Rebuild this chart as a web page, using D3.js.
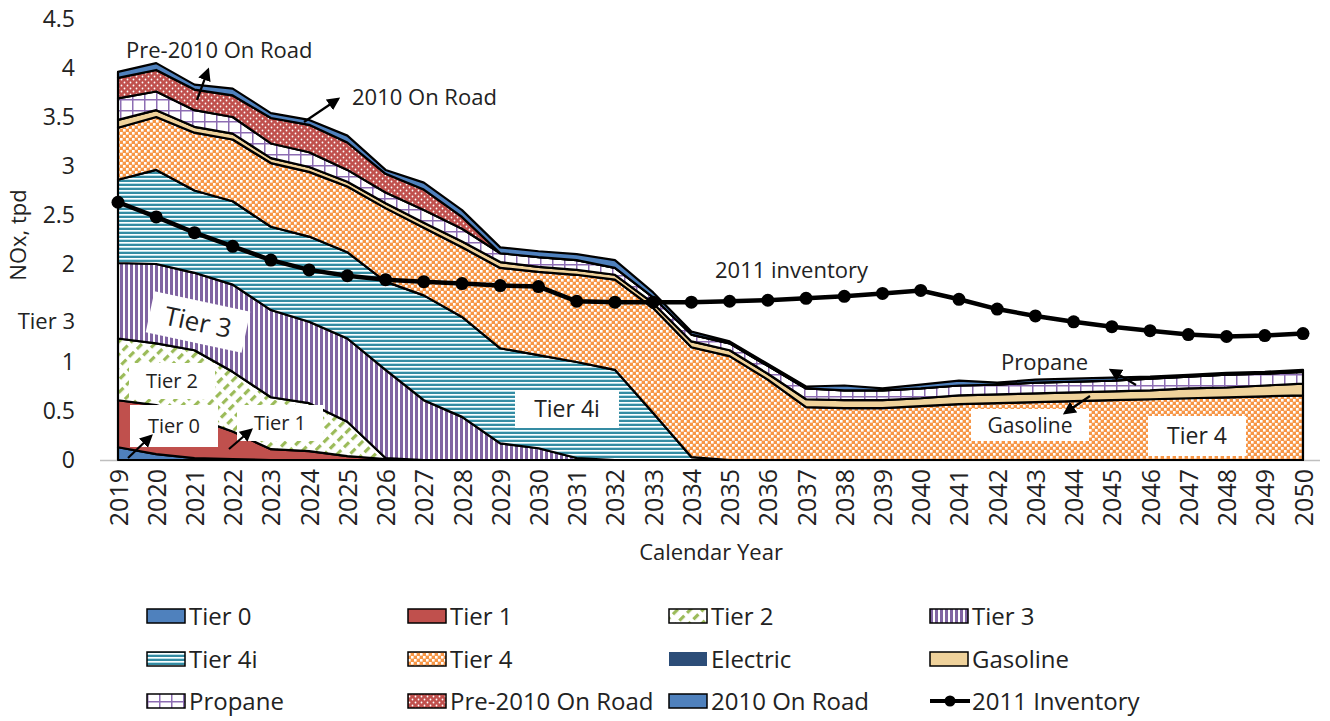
<!DOCTYPE html>
<meta charset="utf-8">
<style>
  body { margin: 0; background: #fff; }
  text { font-family: "Open Sans", sans-serif; fill: #222; }
</style>
<body>
<svg id="chart" width="1330" height="721"></svg>
<script src="https://cdn.jsdelivr.net/npm/d3@7"></script>
<script>
  // ---- data (NOx, tpd) ----
  var years = ["2019","2020","2021","2022","2023","2024","2025","2026","2027","2028","2029","2030","2031","2032","2033","2034",
               "2035","2036","2037","2038","2039","2040","2041","2042","2043","2044","2045","2046","2047","2048","2049","2050"];
  var tier0    = [0.13,0.06,0.02,0.01,0,0,0,0,0,0,0,0,0,0,0,0,0,0,0,0,0,0,0,0,0,0,0,0,0,0,0,0];
  var tier1    = [0.48,0.50,0.41,0.28,0.11,0.09,0.04,0.01,0,0,0,0,0,0,0,0,0,0,0,0,0,0,0,0,0,0,0,0,0,0,0,0];
  var tier2    = [0.63,0.63,0.69,0.61,0.53,0.49,0.35,0.01,0,0,0,0,0,0,0,0,0,0,0,0,0,0,0,0,0,0,0,0,0,0,0,0];
  var tier3    = [0.77,0.81,0.79,0.89,0.89,0.83,0.85,0.90,0.61,0.44,0.17,0.12,0.02,0,0,0,0,0,0,0,0,0,0,0,0,0,0,0,0,0,0,0];
  var tier4i   = [0.85,0.96,0.84,0.85,0.85,0.87,0.88,0.90,1.07,1.02,0.97,0.95,0.98,0.92,0.48,0.03,0,0,0,0,0,0,0,0,0,0,0,0,0,0,0,0];
  var tier4    = [0.53,0.54,0.59,0.63,0.65,0.66,0.67,0.75,0.69,0.71,0.82,0.85,0.89,0.92,1.07,1.12,1.06,0.82,0.54,0.53,0.53,0.55,0.57,0.58,0.59,0.60,0.61,0.62,0.63,0.64,0.65,0.66];
  var electric = [0,0,0,0,0,0,0,0,0,0,0,0,0,0,0,0,0,0,0,0,0,0,0,0,0,0,0,0,0,0,0,0];
  var gasoline = [0.08,0.07,0.06,0.06,0.05,0.05,0.05,0.05,0.05,0.06,0.06,0.05,0.05,0.05,0.05,0.06,0.06,0.06,0.08,0.08,0.08,0.08,0.09,0.09,0.09,0.09,0.09,0.09,0.10,0.10,0.11,0.12];
  var propane  = [0.22,0.19,0.17,0.17,0.15,0.15,0.12,0.11,0.13,0.13,0.09,0.10,0.10,0.07,0.06,0.07,0.07,0.08,0.11,0.10,0.10,0.10,0.10,0.10,0.11,0.11,0.11,0.12,0.12,0.13,0.12,0.12];
  var pre2010  = [0.21,0.22,0.21,0.22,0.26,0.28,0.28,0.19,0.21,0.12,0,0,0,0,0,0,0,0,0,0,0,0,0,0,0,0,0,0,0,0,0,0];
  var road2010 = [0.06,0.07,0.05,0.07,0.05,0.05,0.07,0.04,0.07,0.07,0.06,0.06,0.06,0.08,0.05,0.03,0.02,0.02,0.02,0.05,0.02,0.04,0.05,0.02,0.03,0.03,0.03,0.02,0.02,0.02,0.02,0.02];
  var inventory2011 = [2.63,2.48,2.32,2.18,2.04,1.94,1.88,1.84,1.82,1.80,1.78,1.77,1.62,1.61,1.61,1.61,
                       1.62,1.63,1.65,1.67,1.70,1.73,1.64,1.54,1.47,1.41,1.36,1.32,1.28,1.26,1.27,1.29];
  var yTicks = [0,0.5,1,1.5,2,2.5,3,3.5,4,4.5];

  var series = [
    {key: "Tier 0", values: tier0, fill: "#4f81bd", stroke: true},
    {key: "Tier 1", values: tier1, fill: "#c0504d", stroke: true},
    {key: "Tier 2", values: tier2, fill: "url(#pTier2)", stroke: true},
    {key: "Tier 3", values: tier3, fill: "url(#pTier3)", stroke: true},
    {key: "Tier 4i", values: tier4i, fill: "url(#pTier4i)", stroke: true},
    {key: "Tier 4", values: tier4, fill: "url(#pTier4)", stroke: true},
    {key: "Electric", values: electric, fill: "#2c4d78", stroke: false},
    {key: "Gasoline", values: gasoline, fill: "#efd29b", stroke: true},
    {key: "Propane", values: propane, fill: "url(#pPropane)", stroke: true},
    {key: "Pre-2010 On Road", values: pre2010, fill: "url(#pPre2010)", stroke: true},
    {key: "2010 On Road", values: road2010, fill: "#4f81bd", stroke: true}
  ];

  var svg = d3.select("#chart");
  var defs = svg.append("defs");

  function pattern(id, w, h, transform) {
    var p = defs.append("pattern").attr("id", id)
      .attr("patternUnits", "userSpaceOnUse").attr("width", w).attr("height", h);
    if (transform) p.attr("patternTransform", transform);
    return p;
  }
  var p2 = pattern("pTier2", 9, 11, "rotate(45)");
  p2.append("rect").attr("width", 9).attr("height", 11).attr("fill", "#fff");
  p2.append("rect").attr("width", 3.2).attr("height", 7).attr("fill", "#9bbb59");

  var p3 = pattern("pTier3", 5, 5);
  p3.append("rect").attr("width", 5).attr("height", 5).attr("fill", "#fff");
  p3.append("rect").attr("width", 3).attr("height", 5).attr("fill", "#8064a2");

  var p4i = pattern("pTier4i", 4, 4);
  p4i.append("rect").attr("width", 4).attr("height", 4).attr("fill", "#fff");
  p4i.append("rect").attr("width", 4).attr("height", 2).attr("fill", "#358ca3");
  p4i.append("rect").attr("y", 3).attr("width", 4).attr("height", 1).attr("fill", "#b9dfe8");

  var p4 = pattern("pTier4", 6, 6);
  p4.append("rect").attr("width", 6).attr("height", 6).attr("fill", "#f79646");
  p4.append("rect").attr("width", 2.6).attr("height", 2.6).attr("fill", "#fff");
  p4.append("rect").attr("x", 3).attr("y", 3).attr("width", 2.6).attr("height", 2.6).attr("fill", "#fff");

  var pp = pattern("pPropane", 12, 11);
  pp.append("rect").attr("width", 12).attr("height", 11).attr("fill", "#fff");
  pp.append("path").attr("d", "M0.75,0V11M0,0.75H12").attr("stroke", "#8d6db3").attr("stroke-width", 1.5);

  var pr = pattern("pPre2010", 6, 6);
  pr.append("rect").attr("width", 6).attr("height", 6).attr("fill", "#c0504d");
  pr.append("circle").attr("cx", 1.5).attr("cy", 1.5).attr("r", 0.9).attr("fill", "#fff");
  pr.append("circle").attr("cx", 4.5).attr("cy", 4.5).attr("r", 0.9).attr("fill", "#fff");

  defs.append("marker").attr("id", "arrow").attr("viewBox", "0 0 10 10")
    .attr("refX", 8).attr("refY", 5).attr("markerWidth", 13).attr("markerHeight", 13)
    .attr("markerUnits", "userSpaceOnUse").attr("orient", "auto")
    .append("path").attr("d", "M0,0L10,5L0,10z").attr("fill", "#000");

  // ---- scales ----
  var x = d3.scalePoint().domain(years).range([118, 1303]);
  var y = d3.scaleLinear().domain([0, 4.5]).range([460, 19]);

  var rows = years.map(function (yr, i) {
    var r = {year: yr};
    series.forEach(function (s) { r[s.key] = s.values[i]; });
    return r;
  });
  var stacked = d3.stack().keys(series.map(function (s) { return s.key; }))(rows);

  var area = d3.area()
    .x(function (d) { return x(d.data.year); })
    .y0(function (d) { return y(d[0]); })
    .y1(function (d) { return y(d[1]); });

  // axis base line
  svg.append("line").attr("x1", 100).attr("x2", 1320).attr("y1", 460.5).attr("y2", 460.5)
    .attr("stroke", "#bfbfbf").attr("stroke-width", 1.5);

  svg.append("g").selectAll("path").data(stacked).enter().append("path")
    .attr("d", area)
    .attr("fill", function (d, i) { return series[i].fill; })
    .attr("stroke", function (d, i) { return series[i].stroke ? "#000" : "none"; })
    .attr("stroke-width", 2.2)
    .attr("stroke-linejoin", "round");

  // 2011 inventory line
  var line = d3.line()
    .x(function (d, i) { return x(years[i]); })
    .y(function (d) { return y(d); });
  svg.append("path").datum(inventory2011).attr("d", line)
    .attr("fill", "none").attr("stroke", "#000").attr("stroke-width", 4.5);
  svg.append("g").selectAll("circle").data(inventory2011).enter().append("circle")
    .attr("cx", function (d, i) { return x(years[i]); })
    .attr("cy", function (d) { return y(d); })
    .attr("r", 6.5).attr("fill", "#000");

  // ---- axes ----
  var yAxis = svg.append("g").attr("transform", "translate(75,0)")
    .call(d3.axisLeft(y).tickValues(yTicks).tickSize(0).tickPadding(0)
      .tickFormat(function (d) { return d === 1.5 ? "" : d; }));
  yAxis.select(".domain").remove();
  yAxis.selectAll("text").style("font-size", "23px").style("font-family", "'Open Sans', sans-serif").attr("fill", "#222");

  var xAxis = svg.append("g").attr("transform", "translate(0,469)")
    .call(d3.axisBottom(x).tickSize(0).tickPadding(0));
  xAxis.select(".domain").remove();
  xAxis.selectAll("text")
    .attr("transform", "rotate(-90)")
    .attr("x", 0).attr("y", 0).attr("dy", "0.36em")
    .attr("text-anchor", "end")
    .style("font-size", "25px").style("font-family", "'Open Sans', sans-serif").attr("fill", "#222");

  svg.append("text").attr("x", 711).attr("y", 560).attr("text-anchor", "middle")
    .style("font-size", "22px").text("Calendar Year");
  svg.append("text").attr("transform", "translate(26,235) rotate(-90)").attr("text-anchor", "middle")
    .style("font-size", "22px").text("NOx, tpd");
  svg.append("text").attr("x", 75).attr("y", 329).attr("text-anchor", "end")
    .style("font-size", "22px").text("Tier 3");

  // ---- annotations ----
  function box(cx, cy, w, h, label, size, rot) {
    var g = svg.append("g").attr("transform", "translate(" + cx + "," + cy + ") rotate(" + (rot || 0) + ")");
    g.append("rect").attr("x", -w / 2).attr("y", -h / 2).attr("width", w).attr("height", h).attr("fill", "#fff");
    g.append("text").attr("text-anchor", "middle").attr("dy", "0.36em").style("font-size", size + "px").text(label);
  }
  box(198, 322, 98, 42, "Tier 3", 26, 12);
  box(172, 381, 86, 36, "Tier 2", 20);
  box(174, 426, 88, 42, "Tier 0", 20);
  box(280, 423, 86, 36, "Tier 1", 20);
  box(567, 409, 104, 38, "Tier 4i", 23);
  box(1030, 425, 118, 32, "Gasoline", 21);
  box(1197, 436, 98, 40, "Tier 4", 23);

  function label(x0, y0, txt, size) {
    svg.append("text").attr("x", x0).attr("y", y0).style("font-size", size + "px").text(txt);
  }
  label(126, 58, "Pre-2010 On Road", 22);
  label(352, 105, "2010 On Road", 22);
  label(715, 278, "2011 inventory", 22);
  label(1001, 370, "Propane", 22);

  var arrows = [[197,100,208,70],[304,122,338,99],[128,458,151,436],[229,449,251,430],[1136,385,1111,370],[1090,396,1065,413]];
  svg.append("g").selectAll("line").data(arrows).enter().append("line")
    .attr("x1", function (d) { return d[0]; }).attr("y1", function (d) { return d[1]; })
    .attr("x2", function (d) { return d[2]; }).attr("y2", function (d) { return d[3]; })
    .attr("stroke", "#000").attr("stroke-width", 2.2).attr("marker-end", "url(#arrow)");

  // ---- legend ----
  var legendItems = series.map(function (s) { return {key: s.key, fill: s.fill, stroke: s.stroke}; });
  legendItems.push({key: "2011 Inventory", line: true});
  var colX = [147, 408, 669, 930], rowY = [616, 659, 701];
  var lg = svg.append("g").selectAll("g").data(legendItems).enter().append("g")
    .attr("transform", function (d, i) { return "translate(" + colX[i % 4] + "," + rowY[Math.floor(i / 4)] + ")"; });
  lg.filter(function (d) { return !d.line; }).append("rect")
    .attr("x", 0).attr("y", -7).attr("width", 38).attr("height", 14)
    .attr("fill", function (d) { return d.fill; })
    .attr("stroke", function (d) { return d.stroke ? "#000" : "none"; }).attr("stroke-width", 1.5);
  lg.filter(function (d) { return d.line; }).append("line")
    .attr("x1", 0).attr("x2", 40).attr("stroke", "#000").attr("stroke-width", 4);
  lg.filter(function (d) { return d.line; }).append("circle")
    .attr("cx", 20).attr("r", 5.5).attr("fill", "#000");
  lg.append("text").attr("x", 42).attr("dy", "0.36em").style("font-size", "24px")
    .text(function (d) { return d.key; });
</script>
</body>
